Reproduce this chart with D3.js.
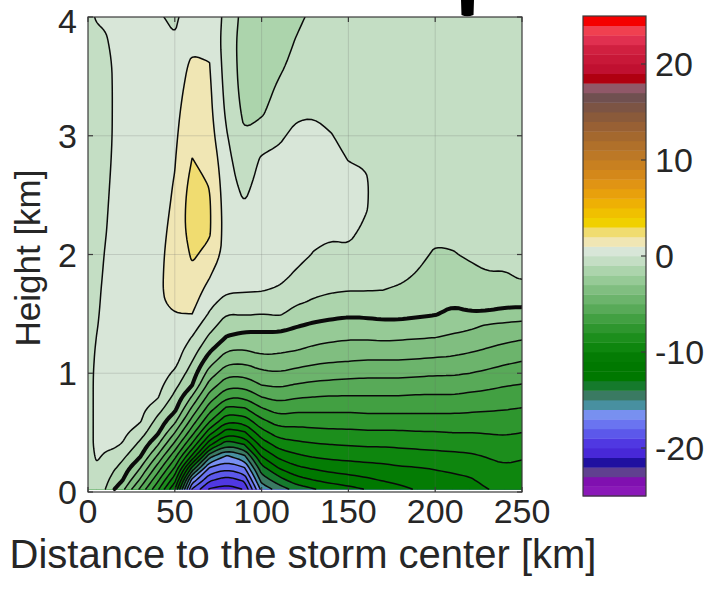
<!DOCTYPE html>
<html>
<head>
<meta charset="utf-8">
<script src="https://cdn.jsdelivr.net/npm/d3@7"></script>
<style>
  html, body { margin: 0; padding: 0; background: #fff; }
  svg { display: block; font-family: "Liberation Sans", Arial, sans-serif; }
</style>
</head>
<body>
<svg id="chart" width="705" height="591"></svg>
<script>
// grid columns (km from storm center) and rows (height, km)
const distanceKm = [0, 5, 10, 15, 20, 30, 40, 50, 60, 70, 80, 90, 100, 110, 120,
    130, 140, 150, 160, 170, 180, 190, 200, 210, 220, 230, 240, 250];
const heightKm = [0.025, 0.1, 0.2, 0.3, 0.4, 0.5, 0.6, 0.7, 0.8, 0.9, 1.0, 1.1, 1.2,
    1.3, 1.4, 1.5, 1.6, 1.7, 1.8, 2.0, 2.2, 2.4, 2.6, 2.8, 3.0, 3.2, 3.4, 3.6, 3.8, 4.0];

// one profile per distance, values bottom -> top
const windProfiles = [
    [-0.8, -0.5, -0.4, -0.35, -0.3, -0.3, -0.3, -0.3, -0.3, -0.3, -0.3, -0.35, -0.4, -0.4, -0.45, -0.45, -0.5, -0.5, -0.5, -0.55, -0.6, -0.6, -0.65, -0.7, -0.7, -0.7, -0.7, -0.65, -0.55, -0.3],
    [-0.6, -0.4, -0.12, 0.1, 0.2, 0.2, 0.2, 0.2, 0.2, 0.2, 0.18, 0.15, 0.1, 0.02, -0.05, -0.12, -0.2, -0.22, -0.25, -0.3, -0.35, -0.4, -0.45, -0.5, -0.55, -0.55, -0.5, -0.45, -0.3, 0.1],
    [-1.0, -0.7, -0.4, -0.1, 0.15, 0.25, 0.3, 0.3, 0.3, 0.3, 0.3, 0.3, 0.3, 0.3, 0.3, 0.3, 0.3, 0.22, 0.15, 0.05, -0.05, -0.12, -0.2, -0.3, -0.35, -0.4, -0.4, -0.35, -0.1, 0.15],
    [-1.95, -1.5, -0.88, -0.3, 0.15, 0.3, 0.35, 0.35, 0.35, 0.35, 0.35, 0.35, 0.35, 0.35, 0.35, 0.35, 0.35, 0.35, 0.35, 0.35, 0.3, 0.25, 0.2, 0.15, 0.1, 0.1, 0.1, 0.12, 0.2, 0.3],
    [-2.73, -2.0, -1.41, -0.79, -0.07, 0.25, 0.35, 0.4, 0.45, 0.45, 0.45, 0.45, 0.45, 0.45, 0.45, 0.45, 0.45, 0.45, 0.45, 0.45, 0.45, 0.45, 0.45, 0.45, 0.45, 0.45, 0.45, 0.45, 0.45, 0.4],
    [-5.15, -4.13, -3.0, -1.93, -1.27, -0.54, 0.1, 0.3, 0.4, 0.45, 0.5, 0.5, 0.5, 0.5, 0.5, 0.5, 0.5, 0.5, 0.5, 0.5, 0.5, 0.5, 0.5, 0.5, 0.5, 0.5, 0.5, 0.5, 0.5, 0.45],
    [-7.73, -6.75, -5.43, -4.13, -2.88, -1.83, -1.28, -0.62, 0.1, 0.35, 0.5, 0.6, 0.65, 0.7, 0.75, 0.78, 0.8, 0.8, 0.75, 0.7, 0.65, 0.62, 0.6, 0.6, 0.6, 0.6, 0.6, 0.6, 0.55, 0.15],
    [-10.92, -9.67, -8.14, -6.71, -5.29, -4.0, -2.73, -1.77, -1.26, -0.72, -0.17, 0.3, 0.5, 0.65, 0.8, 0.98, 1.25, 1.4, 1.5, 1.45, 1.3, 1.15, 1.05, 0.95, 0.85, 0.8, 0.75, 0.7, 0.1, -0.25],
    [-18.05, -16.4, -13.33, -10.25, -8.2, -6.63, -5.38, -4.22, -3.11, -2.0, -1.5, -1.0, -0.5, -0.05, 0.45, 1.0, 1.3, 1.55, 1.8, 2.1, 2.45, 2.55, 2.35, 2.02, 1.75, 1.45, 1.25, 1.1, 0.85, 0.8],
    [-20.08, -18.83, -17.17, -14.67, -11.75, -9.6, -7.86, -6.56, -5.44, -4.4, -3.45, -2.58, -1.81, -1.19, -0.63, -0.1, 0.3, 0.65, 1.0, 1.8, 2.1, 2.1, 1.95, 1.7, 1.4, 1.25, 1.15, 1.02, 0.85, 0.7],
    [-20.39, -19.5, -17.83, -16.17, -13.75, -11.6, -9.83, -8.29, -6.88, -5.7, -4.7, -3.75, -2.92, -2.08, -1.53, -1.0, -0.41, 0.15, 0.45, 0.55, 0.55, 0.5, 0.4, 0.25, 0.05, -0.2, -0.35, -0.45, -0.5, -0.3],
    [-19.93, -18.83, -17.17, -15.25, -13.0, -11.17, -9.57, -8.14, -6.88, -5.7, -4.73, -3.83, -3.0, -2.33, -1.62, -0.9, -0.4, 0.1, 0.3, 0.35, 0.25, 0.05, -0.3, -0.6, -0.92, -1.2, -1.35, -1.4, -1.4, -1.35],
    [-15.64, -14.63, -13.38, -12.0, -10.63, -9.38, -8.22, -7.11, -6.0, -5.0, -4.23, -3.36, -2.73, -2.27, -1.71, -1.0, -0.47, 0.05, 0.3, 0.45, 0.5, 0.45, 0.35, 0.12, -0.5, -1.15, -1.4, -1.5, -1.5, -1.5],
    [-14.53, -13.43, -12.0, -10.75, -9.56, -8.5, -7.5, -6.55, -5.67, -4.85, -4.08, -3.4, -2.8, -2.3, -1.64, -0.88, -0.5, -0.12, 0.2, 0.35, 0.45, 0.45, 0.35, 0.15, -0.1, -0.45, -0.85, -1.2, -1.4, -1.5],
    [-13.58, -12.43, -11.22, -10.2, -9.27, -8.42, -7.58, -6.75, -5.92, -5.08, -4.31, -3.6, -2.95, -2.45, -1.94, -1.35, -0.87, -0.53, -0.2, 0.3, 0.4, 0.45, 0.4, 0.3, 0.15, -0.1, -0.4, -0.7, -0.95, -1.2],
    [-13.05, -12.0, -10.9, -9.92, -9.08, -8.31, -7.54, -6.77, -6.0, -5.23, -4.5, -3.81, -3.19, -2.65, -2.15, -1.63, -1.1, -0.8, -0.55, -0.05, 0.25, 0.35, 0.35, 0.3, 0.15, -0.05, -0.35, -0.55, -0.7, -0.8],
    [-12.58, -11.67, -10.64, -9.77, -9.0, -8.23, -7.5, -6.79, -6.07, -5.31, -4.6, -3.94, -3.35, -2.79, -2.26, -1.77, -1.32, -0.9, -0.7, -0.3, 0.2, 0.35, 0.35, 0.25, 0.05, -0.3, -0.5, -0.6, -0.65, -0.7],
    [-12.3, -11.44, -10.5, -9.69, -8.93, -8.21, -7.5, -6.79, -6.07, -5.36, -4.67, -4.0, -3.44, -2.89, -2.37, -1.86, -1.41, -0.97, -0.75, -0.2, 0.25, 0.35, 0.25, -0.02, -0.35, -0.55, -0.65, -0.7, -0.7, -0.7],
    [-11.95, -11.2, -10.38, -9.62, -8.86, -8.14, -7.43, -6.73, -6.07, -5.4, -4.73, -4.07, -3.47, -2.89, -2.33, -1.83, -1.39, -0.97, -0.8, -0.55, -0.2, 0.1, 0.12, -0.1, -0.45, -0.6, -0.7, -0.7, -0.7, -0.7],
    [-11.65, -10.93, -10.27, -9.57, -8.86, -8.14, -7.43, -6.73, -6.07, -5.4, -4.73, -4.07, -3.44, -2.82, -2.24, -1.77, -1.38, -1.0, -0.85, -0.7, -0.65, -0.65, -0.65, -0.7, -0.7, -0.7, -0.7, -0.7, -0.7, -0.7],
    [-11.25, -10.71, -10.12, -9.47, -8.8, -8.13, -7.43, -6.73, -6.07, -5.4, -4.73, -4.07, -3.47, -2.88, -2.25, -1.79, -1.45, -1.1, -0.9, -0.75, -0.7, -0.7, -0.7, -0.7, -0.7, -0.7, -0.7, -0.7, -0.7, -0.7],
    [-10.88, -10.52, -10.05, -9.4, -8.73, -8.07, -7.4, -6.75, -6.13, -5.47, -4.8, -4.13, -3.53, -2.94, -2.31, -1.88, -1.6, -1.35, -1.1, -0.8, -0.7, -0.7, -0.7, -0.7, -0.7, -0.7, -0.7, -0.7, -0.7, -0.7],
    [-10.69, -10.38, -9.94, -9.31, -8.69, -8.06, -7.4, -6.75, -6.13, -5.5, -4.87, -4.2, -3.59, -3.0, -2.41, -1.95, -1.8, -1.6, -1.35, -1.1, -0.8, -0.75, -0.75, -0.75, -0.75, -0.75, -0.75, -0.75, -0.75, -0.75],
    [-10.51, -10.25, -9.82, -9.24, -8.63, -8.0, -7.38, -6.75, -6.13, -5.5, -4.88, -4.25, -3.68, -3.16, -2.67, -2.19, -1.88, -1.65, -1.45, -1.05, -0.8, -0.75, -0.75, -0.75, -0.75, -0.75, -0.75, -0.75, -0.75, -0.75],
    [-10.33, -10.11, -9.68, -9.16, -8.59, -8.0, -7.41, -6.82, -6.24, -5.63, -5.0, -4.41, -3.85, -3.35, -2.79, -2.07, -1.76, -1.5, -1.24, -0.9, -0.75, -0.75, -0.75, -0.75, -0.75, -0.75, -0.75, -0.75, -0.75, -0.75],
    [-10.02, -9.73, -9.35, -8.95, -8.45, -7.95, -7.42, -6.89, -6.33, -5.76, -5.18, -4.61, -4.06, -3.57, -3.1, -2.11, -1.71, -1.39, -1.06, -0.85, -0.75, -0.75, -0.75, -0.75, -0.75, -0.75, -0.75, -0.75, -0.75, -0.75],
    [-9.76, -9.5, -9.14, -8.75, -8.33, -7.9, -7.43, -6.95, -6.45, -5.94, -5.39, -4.83, -4.28, -3.75, -3.25, -2.29, -1.73, -1.4, -1.07, -0.85, -0.75, -0.75, -0.75, -0.75, -0.75, -0.75, -0.75, -0.75, -0.75, -0.75],
    [-9.64, -9.45, -9.2, -8.91, -8.45, -8.0, -7.52, -7.05, -6.55, -6.05, -5.53, -5.0, -4.44, -3.89, -3.37, -2.4, -1.7, -1.33, -0.97, -0.8, -0.75, -0.75, -0.75, -0.75, -0.75, -0.75, -0.75, -0.75, -0.75, -0.75]
];

// colormap, one colour per 1-unit band from -25 (bottom) to 25 (top)
const bandColors = [
    "#8a18b8", "#8010b0", "#604090", "#2010a0", "#4828d8", "#5038e2", "#5c58ea", "#6a74f0",
    "#7890f0", "#4890a0", "#3a7a62", "#157a2c", "#007800", "#007800", "#047c04", "#0e860e",
    "#1c8e1c", "#2e962e", "#42a042", "#58aa58", "#6cb46c", "#80be80", "#96ca96", "#acd4ac",
    "#c4dec4", "#d8e6d8", "#f0e6b4", "#f0dc70", "#f0d000", "#f0c000", "#eeb004", "#e8a00c",
    "#e09414", "#d4881a", "#c88020", "#bc7826", "#b0702a", "#a4682e", "#986034", "#8a5a3a",
    "#7c5444", "#705050", "#905868", "#b00010", "#c01030", "#c81838", "#d02040", "#e03050",
    "#f04050", "#f40000"
];
const levelMin = -25;
const levelMax = 25;
const thickLevel = -2;

const xTicks = [0, 50, 100, 150, 200, 250];
const yTicks = [0, 1, 2, 3, 4];
const cbTicks = [-20, -10, 0, 10, 20];

const svg = d3.select("#chart");
const plot = { left: 88, right: 522, top: 17, bottom: 492 };
const x = d3.scaleLinear().domain([0, 250]).range([plot.left, plot.right]);
const y = d3.scaleLinear().domain([0, 4]).range([plot.bottom, plot.top]);
const yBase = y(heightKm[0]);

const nx = distanceKm.length;
const ny = heightKm.length;
const values = [];
for (let j = 0; j < ny; j++) {
    for (let i = 0; i < nx; i++) values.push(windProfiles[i][j]);
}

// grid index -> km (grid is not evenly spaced)
const gx = d3.scaleLinear().domain(d3.range(nx)).range(distanceKm).clamp(true);
const gy = d3.scaleLinear().domain(d3.range(ny)).range(heightKm).clamp(true);
const toPx = (p) => [x(gx(p[0] - 0.5)), y(gy(p[1] - 0.5))];

const thresholds = d3.range(levelMin, levelMax);
const contours = d3.contours().size([nx, ny]).thresholds(thresholds)(values);
const bandColor = (v) => bandColors[Math.max(0, Math.min(bandColors.length - 1, Math.floor(v - levelMin)))];

// which plot edges a pixel point sits on
function edges(p) {
    return [p[0] <= plot.left + 0.01, p[0] >= plot.right - 0.01, p[1] >= yBase - 0.01, p[1] <= plot.top + 0.01];
}
const onEdge = (q) => q.e.some(Boolean);

// corner cutting, points on the plot edge stay put
function chaikin(pts) {
    const n = pts.length;
    const out = [];
    for (let i = 0; i < n; i++) {
        const a = pts[i];
        const b = pts[(i + 1) % n];
        const fa = onEdge(a);
        const fb = onEdge(b);
        if (fa) out.push(a);
        if (!(fa && fb)) {
            [0.25, 0.75].forEach((t) => {
                out.push({
                    p: [a.p[0] + (b.p[0] - a.p[0]) * t, a.p[1] + (b.p[1] - a.p[1]) * t],
                    e: [false, false, false, false]
                });
            });
        }
    }
    return out;
}

function smoothRings(multi) {
    const rings = [];
    multi.coordinates.forEach((poly) => {
        poly.forEach((ring) => {
            let pts = ring.slice(0, -1).map((p) => {
                const q = toPx(p);
                return { p: q, e: edges(q) };
            });
            pts = chaikin(chaikin(pts));
            rings.push(pts);
        });
    });
    return rings;
}

svg.append("defs").append("clipPath").attr("id", "plot-clip")
    .append("rect")
    .attr("x", plot.left).attr("y", plot.top)
    .attr("width", plot.right - plot.left).attr("height", plot.bottom - plot.top);

// bit of the title that shows above the axes
svg.append("path")
    .attr("d", "M461,0 L474,0 L473.5,15 Q467,17.5 461.5,15 Z")
    .attr("fill", "#000");

const area = svg.append("g").attr("clip-path", "url(#plot-clip)");

const bands = contours
    .filter((c) => c.coordinates.length)
    .map((c) => ({ value: c.value, rings: smoothRings(c) }));

const fmt = (q) => q.p[0].toFixed(2) + "," + q.p[1].toFixed(2);

area.append("g")
    .selectAll("path")
    .data(bands)
    .enter()
    .append("path")
    .attr("d", (d) => d.rings.map((r) => "M" + r.map(fmt).join("L") + "Z").join(""))
    .attr("fill", (d) => bandColor(d.value + 0.5))
    .attr("stroke", (d) => bandColor(d.value + 0.5))
    .attr("stroke-width", 0.5);

// grid
const grid = area.append("g").attr("stroke", "#6a6a6a").attr("stroke-opacity", 0.22).attr("stroke-width", 1);
xTicks.slice(1, -1).forEach((t) => {
    grid.append("line").attr("x1", x(t)).attr("x2", x(t)).attr("y1", plot.top).attr("y2", plot.bottom);
});
yTicks.slice(1, -1).forEach((t) => {
    grid.append("line").attr("x1", plot.left).attr("x2", plot.right).attr("y1", y(t)).attr("y2", y(t));
});

// contour lines: the band outlines without the stretches along the plot edge
function linePath(d) {
    let s = "";
    d.rings.forEach((r) => {
        let pen = false;
        for (let k = 0; k < r.length; k++) {
            const a = r[k];
            const b = r[(k + 1) % r.length];
            const along = a.e.some((f, t) => f && b.e[t]);
            if (along) { pen = false; continue; }
            if (!pen) s += "M" + fmt(a);
            s += "L" + fmt(b);
            pen = true;
        }
    });
    return s;
}

area.append("g")
    .selectAll("path")
    .data(bands.filter((d) => d.value > levelMin))
    .enter()
    .append("path")
    .attr("d", linePath)
    .attr("fill", "none")
    .attr("stroke", "#0a0a0a")
    .attr("stroke-linejoin", "round")
    .attr("stroke-linecap", "round")
    .attr("stroke-width", (d) => (d.value === thickLevel ? 4 : 1.5));

// frame and ticks
svg.append("rect")
    .attr("x", plot.left).attr("y", plot.top)
    .attr("width", plot.right - plot.left).attr("height", plot.bottom - plot.top)
    .attr("fill", "none").attr("stroke", "#3a3a3a").attr("stroke-width", 1.2);

const ticks = svg.append("g").attr("stroke", "#3a3a3a").attr("stroke-width", 1.2);
xTicks.forEach((t) => {
    ticks.append("line").attr("x1", x(t)).attr("x2", x(t)).attr("y1", plot.bottom).attr("y2", plot.bottom - 5);
    ticks.append("line").attr("x1", x(t)).attr("x2", x(t)).attr("y1", plot.top).attr("y2", plot.top + 5);
});
yTicks.forEach((t) => {
    ticks.append("line").attr("x1", plot.left).attr("x2", plot.left + 5).attr("y1", y(t)).attr("y2", y(t));
    ticks.append("line").attr("x1", plot.right).attr("x2", plot.right - 5).attr("y1", y(t)).attr("y2", y(t));
});

const labelColor = "#262626";
svg.append("g")
    .selectAll("text")
    .data(xTicks)
    .enter()
    .append("text")
    .attr("x", (d) => x(d))
    .attr("y", 523)
    .attr("text-anchor", "middle")
    .attr("font-size", 34)
    .attr("fill", labelColor)
    .text((d) => d);

svg.append("g")
    .selectAll("text")
    .data(yTicks)
    .enter()
    .append("text")
    .attr("x", 77)
    .attr("y", (d) => Math.max(y(d) + 12, 33))
    .attr("text-anchor", "end")
    .attr("font-size", 34)
    .attr("fill", labelColor)
    .text((d) => d);

svg.append("text")
    .attr("transform", "translate(40,258) rotate(-90)")
    .attr("text-anchor", "middle")
    .attr("font-size", 35)
    .attr("fill", labelColor)
    .text("Height [km]");

svg.append("text")
    .attr("x", 303)
    .attr("y", 568)
    .attr("text-anchor", "middle")
    .attr("font-size", 40)
    .attr("fill", labelColor)
    .text("Distance to the storm center [km]");

// colorbar
const cb = { left: 583, right: 646, top: 16, bottom: 496 };
const cy = d3.scaleLinear().domain([levelMin, levelMax]).range([cb.bottom, cb.top]);
svg.append("g")
    .selectAll("rect")
    .data(bandColors)
    .enter()
    .append("rect")
    .attr("x", cb.left)
    .attr("width", cb.right - cb.left)
    .attr("y", (d, i) => cy(levelMin + i + 1))
    .attr("height", (d, i) => cy(levelMin + i) - cy(levelMin + i + 1) + 0.4)
    .attr("fill", (d) => d);
svg.append("rect")
    .attr("x", cb.left).attr("y", cb.top)
    .attr("width", cb.right - cb.left).attr("height", cb.bottom - cb.top)
    .attr("fill", "none").attr("stroke", "#3a3a3a").attr("stroke-width", 1.2);
const cbt = svg.append("g");
cbTicks.forEach((t) => {
    cbt.append("line").attr("x1", cb.right).attr("x2", cb.right - 5)
        .attr("y1", cy(t)).attr("y2", cy(t)).attr("stroke", "#3a3a3a").attr("stroke-width", 1.2);
    cbt.append("text").attr("x", 655).attr("y", cy(t) + 12)
        .attr("font-size", 34).attr("fill", labelColor).text(t);
});
</script>
</body>
</html>
